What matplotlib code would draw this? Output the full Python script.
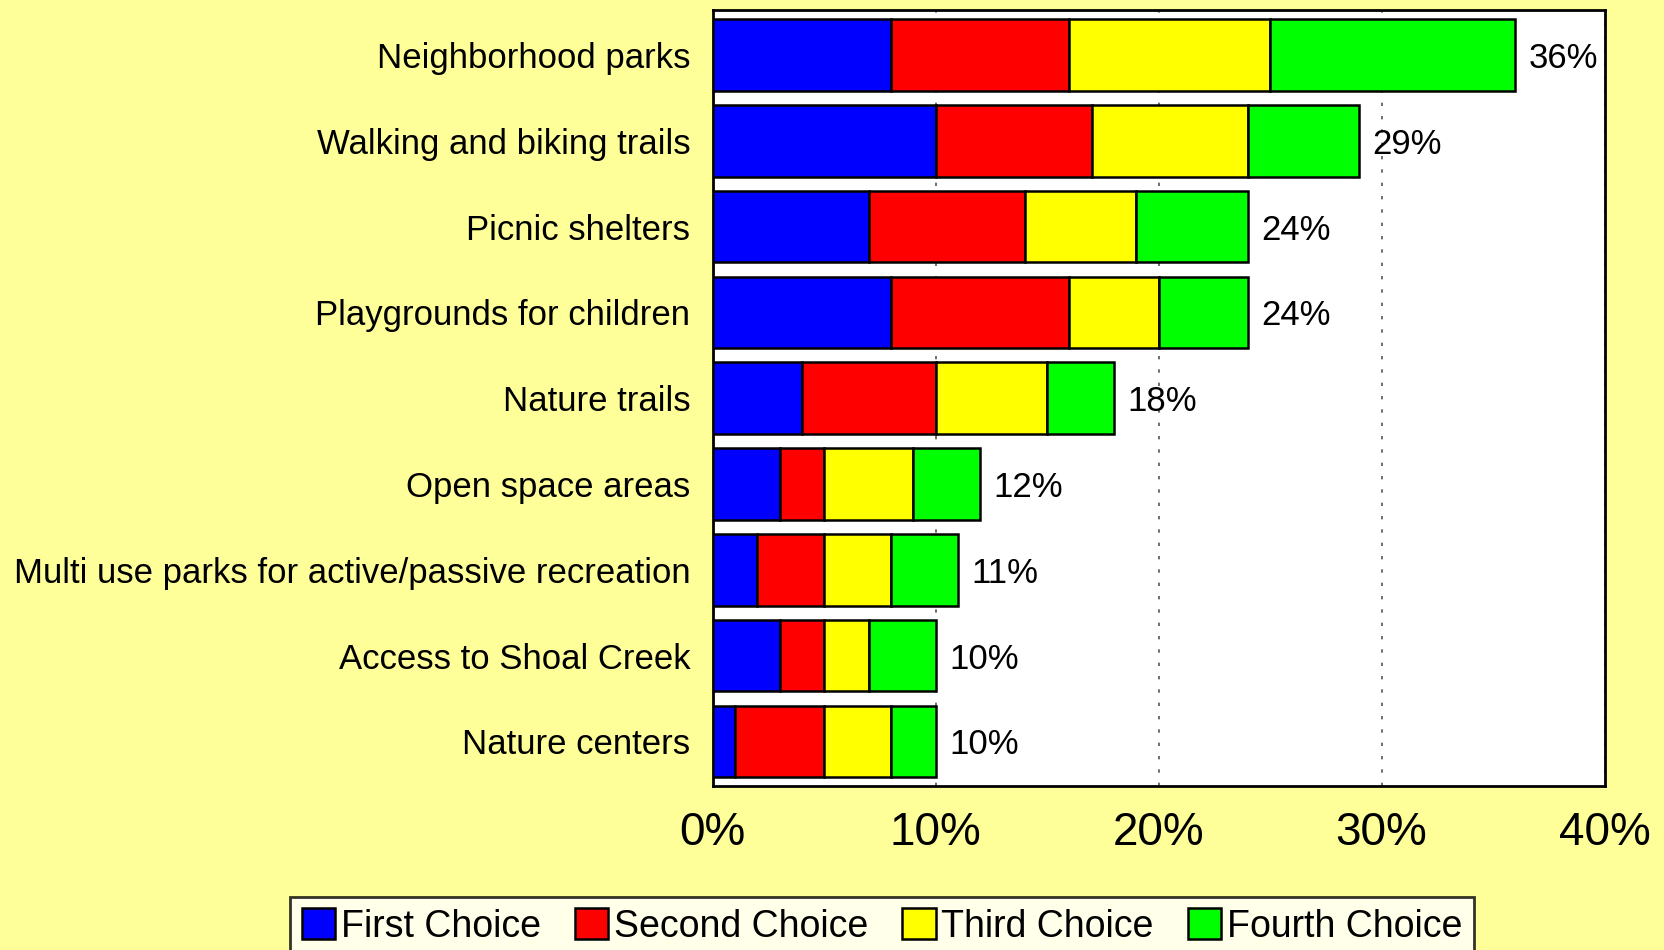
import matplotlib
matplotlib.use("Agg")
import matplotlib.pyplot as plt
import numpy as np

categories = ["Neighborhood parks", "Walking and biking trails", "Picnic shelters",
              "Playgrounds for children", "Nature trails", "Open space areas",
              "Multi use parks for active/passive recreation", "Access to Shoal Creek",
              "Nature centers"]
first = [8, 10, 7, 8, 4, 3, 2, 3, 1]
second = [8, 7, 7, 8, 6, 2, 3, 2, 4]
third = [9, 7, 5, 4, 5, 4, 3, 2, 3]
fourth = [11, 5, 5, 4, 3, 3, 3, 3, 2]
totals = [36, 29, 24, 24, 18, 12, 11, 10, 10]
series_names = ["First Choice", "Second Choice", "Third Choice", "Fourth Choice"]
colors = ["#0000FF", "#FF0000", "#FFFF00", "#00FF00"]
xticks = [0, 10, 20, 30, 40]
xticklabels = ["0%", "10%", "20%", "30%", "40%"]

plt.rcParams['font.family'] = ['Liberation Sans', 'DejaVu Sans']
bg = "#FFFF99"
fig = plt.figure(figsize=(16.65, 9.5), dpi=100, facecolor=bg)
ax = fig.add_axes([0.428, 0.1726, 0.5357, 0.8164])
ax.set_facecolor("white")

y = np.arange(len(categories))
left = np.zeros(len(categories))
for vals, name, c in zip([first, second, third, fourth], series_names, colors):
    ax.barh(y, vals, left=left, height=0.835, color=c, edgecolor="black",
            linewidth=1.8, label=name, zorder=3)
    left = left + np.array(vals)

for yi, t in zip(y, totals):
    ax.text(t + 0.6, yi, f"{t}%", va="center_baseline", ha="left", fontsize=25, zorder=4)

ax.set_xlim(0, 40)
ax.set_ylim(len(categories) - 0.48, -0.52)
ax.set_yticks(y)
ax.set_yticklabels(categories, fontsize=25)
ax.set_xticks(xticks)
ax.set_xticklabels(xticklabels, fontsize=33)
ax.tick_params(axis='y', length=0, pad=16)
ax.tick_params(axis='x', length=0, pad=18)
ax.grid(axis='x', linestyle=(0, (2, 6)), color="#555555", linewidth=1.2, zorder=0)
for s in ax.spines.values():
    s.set_linewidth(2)
    s.set_color("black")

leg = fig.legend(loc="upper center", bbox_to_anchor=(0.5297, 0.0558), ncol=4,
                 fontsize=27, frameon=True, fancybox=False, edgecolor="black",
                 handlelength=0.9, handleheight=0.9, handletextpad=0.15,
                 columnspacing=0.9, borderpad=0.3, borderaxespad=0)
leg.get_frame().set_linewidth(2)

fig.savefig("out.png", dpi=100, facecolor=bg)
